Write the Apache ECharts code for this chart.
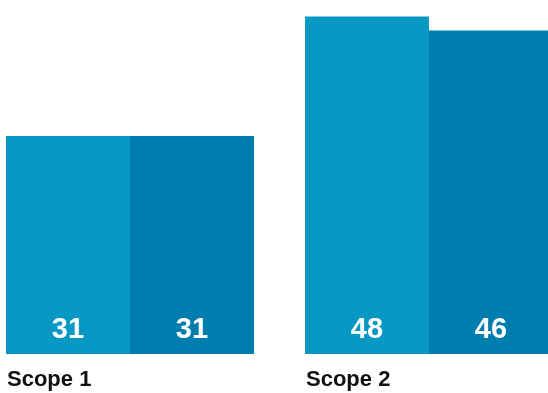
<!DOCTYPE html>
<html>
<head>
<meta charset="utf-8">
<script src="https://cdn.jsdelivr.net/npm/echarts@6/dist/echarts.min.js"></script>
<style>
  html, body { margin: 0; padding: 0; background: #ffffff; }
  #chart { width: 548px; height: 393px; }
</style>
</head>
<body>
<div id="chart"></div>
<script>
// Emissions by scope, two periods side by side
const categories = ['Scope 1', 'Scope 2'];
const seriesNames = ['Previous', 'Current'];
const previousValues = [31, 48];
const currentValues = [31, 46];

const FONT = '"Liberation Sans", Arial, Helvetica, sans-serif';
const colors = ['#0898c4', '#007daf'];

const valueLabel = {
  show: true,
  position: 'insideBottom',
  distance: 10,
  color: '#ffffff',
  fontFamily: FONT,
  fontWeight: 'bold',
  fontSize: 29,
  lineHeight: 29
};

const chart = echarts.init(document.getElementById('chart'), null, { renderer: 'canvas' });
chart.setOption({
  animation: false,
  backgroundColor: '#ffffff',
  grid: {
    left: -19.5, right: -30.5, top: 2.5, bottom: 39,
    containLabel: false,
    outerBoundsMode: 'none'
  },
  xAxis: {
    type: 'category',
    data: categories,
    axisLine: { show: false },
    axisTick: { show: false },
    splitLine: { show: false },
    axisLabel: {
      margin: 15,
      formatter: v => '{n|' + v + '}',
      rich: {
        n: {
          width: 246,
          align: 'left',
          color: '#111111',
          fontFamily: FONT,
          fontWeight: 'bold',
          fontSize: 22,
          lineHeight: 22
        }
      }
    }
  },
  yAxis: {
    type: 'value',
    min: 0,
    max: 50,
    show: false,
    splitLine: { show: false }
  },
  series: [
    {
      name: seriesNames[0],
      type: 'bar',
      data: previousValues,
      barWidth: 124,
      barGap: '0%',
      itemStyle: { color: colors[0] },
      label: valueLabel
    },
    {
      name: seriesNames[1],
      type: 'bar',
      data: currentValues,
      barWidth: 124,
      barGap: '0%',
      itemStyle: { color: colors[1] },
      label: valueLabel
    }
  ]
});
</script>
</body>
</html>
